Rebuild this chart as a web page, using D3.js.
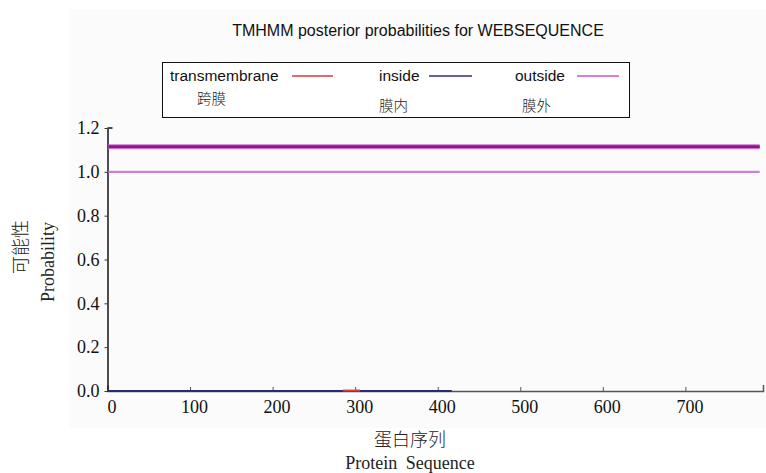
<!DOCTYPE html>
<html>
<head>
<meta charset="utf-8">
<script src="https://cdn.jsdelivr.net/npm/d3@7"></script>
<style>
  html, body { margin: 0; padding: 0; background: #ffffff; }
  svg { display: block; }
</style>
</head>
<body>
<svg id="chart" width="766" height="473"></svg>
<script>
// TMHMM posterior probabilities along the protein sequence
const seqEnd = 794;
const xTicks = [0, 100, 200, 300, 400, 500, 600, 700];
const yTicks = [0.0, 0.2, 0.4, 0.6, 0.8, 1.0, 1.2];

// [position, probability] pairs for each track
const outsideProb = [[1, 1.0], [790, 1.0]];
const outsideBar = [[1, 1.115], [790, 1.115]];
const insideProb = [[1, 0.0], [417, 0.0]];
const tmProb = [[285, 0.002], [306, 0.002]];

const legendItems = [
  { en: "transmembrane", zh: "跨膜", color: "#d83a3a" },
  { en: "inside", zh: "膜内", color: "#2a2a9a" },
  { en: "outside", zh: "膜外", color: "#cc55cc" }
];

const svg = d3.select("#chart");
const serif = "'Liberation Serif', 'Times New Roman', serif";
const sans = "'Liberation Sans', Arial, sans-serif";
const cjk = "'Noto Sans CJK SC', sans-serif";

// plot panel background
svg.append("rect").attr("x", 69).attr("y", 9).attr("width", 697).attr("height", 419)
  .attr("fill", "#fbfbfb");

const x = d3.scaleLinear().domain([0, seqEnd]).range([107.5, 763]);
const y = d3.scaleLinear().domain([0, 1.2]).range([391, 128]);

// title
svg.append("text").attr("x", 418).attr("y", 36).attr("text-anchor", "middle")
  .attr("font-family", sans).attr("font-size", 16).attr("fill", "#111")
  .text("TMHMM posterior probabilities for WEBSEQUENCE");

// legend
const lg = svg.append("g");
lg.append("rect").attr("x", 162.5).attr("y", 62.5).attr("width", 467).attr("height", 55)
  .attr("fill", "#ffffff").attr("stroke", "#111").attr("stroke-width", 1);
const legendPos = [
  { tx: 170, lx1: 292, lx2: 333, zx: 197, zy: 104 },
  { tx: 379, lx1: 429, lx2: 472, zx: 379, zy: 111 },
  { tx: 515, lx1: 577, lx2: 619, zx: 522, zy: 111 }
];
legendItems.forEach((d, i) => {
  const p = legendPos[i];
  lg.append("text").attr("x", p.tx).attr("y", 81).attr("font-family", sans)
    .attr("font-size", 15.5).attr("fill", "#111").text(d.en);
  lg.append("line").attr("x1", p.lx1).attr("x2", p.lx2).attr("y1", 76).attr("y2", 76)
    .attr("stroke", d.color).attr("stroke-width", 1.3);
  lg.append("text").attr("x", p.zx).attr("y", p.zy).attr("font-family", cjk)
    .attr("font-size", 14.5).attr("font-weight", 300).attr("fill", "#222").text(d.zh);
});

const line = d3.line().x(d => x(d[0])).y(d => y(d[1]));

// x axis (ticks point up into the plot)
const xAxis = svg.append("g").attr("transform", `translate(0,${y(0)})`)
  .call(d3.axisBottom(x).tickValues(xTicks).tickSize(-4).tickSizeOuter(-6)
    .tickFormat(d3.format("d")).tickPadding(9));
xAxis.select(".domain").attr("stroke", "#555").attr("stroke-width", 1.5);
xAxis.selectAll(".tick line").attr("stroke", "#555");
xAxis.selectAll(".tick text").attr("font-family", serif).attr("font-size", 18)
  .attr("fill", "#111").attr("dx", 4);

// y axis
const yAxis = svg.append("g").attr("transform", `translate(${x(0)},0)`)
  .call(d3.axisLeft(y).tickValues(yTicks).tickSize(3).tickSizeOuter(0)
    .tickFormat(d3.format(".1f")).tickPadding(5));
yAxis.select(".domain").attr("stroke", "#222").attr("stroke-width", 1.6);
yAxis.selectAll(".tick line").attr("stroke", "#333");
yAxis.selectAll(".tick text").attr("font-family", serif).attr("font-size", 18)
  .attr("fill", "#111");
// short cap at the top of the y axis
svg.append("line").attr("x1", x(0)).attr("x2", x(0) + 5).attr("y1", y(1.2)).attr("y2", y(1.2))
  .attr("stroke", "#222").attr("stroke-width", 1.6);

// data tracks
svg.append("path").datum(outsideProb).attr("d", line).attr("fill", "none")
  .attr("stroke", "#d27fd2").attr("stroke-width", 2.2);
svg.append("path").datum(outsideBar).attr("d", line).attr("fill", "none")
  .attr("stroke", "#cf6fcf").attr("stroke-width", 5);
svg.append("path").datum(outsideBar).attr("d", line).attr("fill", "none")
  .attr("stroke", "#861c86").attr("stroke-width", 2.6);
svg.append("path").datum(insideProb).attr("d", line).attr("fill", "none")
  .attr("stroke", "#2a2a7a").attr("stroke-width", 2);
svg.append("path").datum(tmProb).attr("d", line).attr("fill", "none")
  .attr("stroke", "#d83a3a").attr("stroke-width", 2);

// axis titles
svg.append("text").attr("transform", "translate(27,247) rotate(-90)")
  .attr("text-anchor", "middle").attr("font-family", cjk).attr("font-size", 18)
  .attr("font-weight", 300).attr("fill", "#222").text("可能性");
svg.append("text").attr("transform", "translate(54,262) rotate(-90)")
  .attr("text-anchor", "middle").attr("font-family", serif).attr("font-size", 18)
  .attr("fill", "#222").text("Probability");
svg.append("text").attr("x", 410).attr("y", 446).attr("text-anchor", "middle")
  .attr("font-family", cjk).attr("font-size", 18).attr("font-weight", 300)
  .attr("fill", "#222").text("蛋白序列");
svg.append("text").attr("x", 410).attr("y", 469).attr("text-anchor", "middle")
  .attr("font-family", serif).attr("font-size", 18).attr("fill", "#222")
  .attr("word-spacing", 4).text("Protein Sequence");
</script>
</body>
</html>
